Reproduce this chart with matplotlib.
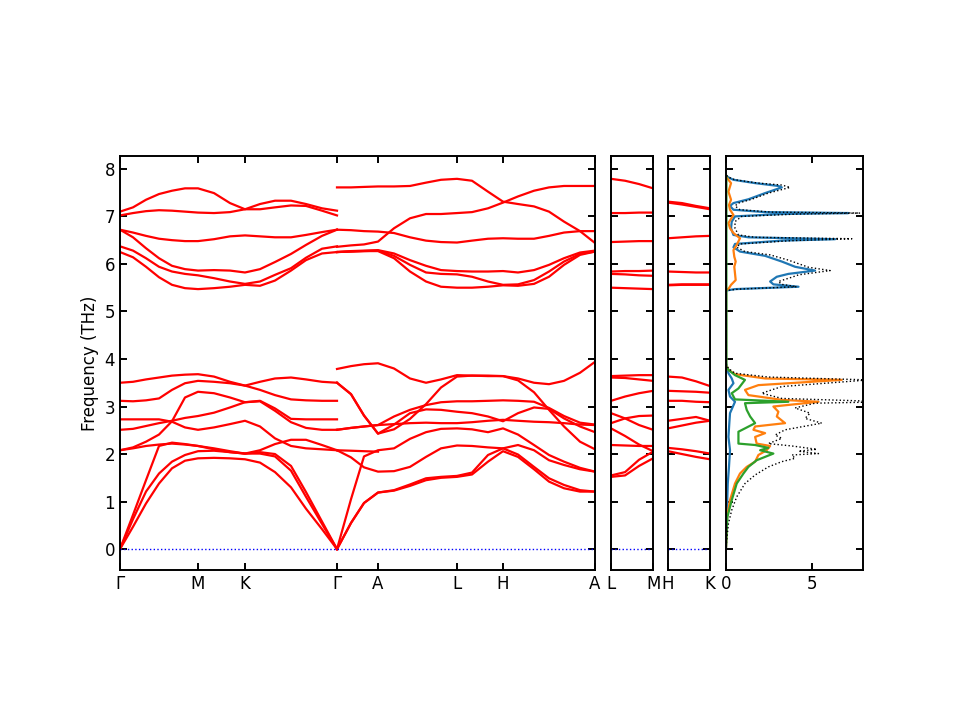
import numpy as np
import matplotlib
matplotlib.use("Agg")
import matplotlib.pyplot as plt

plt.rcParams.update({
    'font.size': 12,
    'axes.linewidth': 1.4,
    'xtick.direction': 'in',
    'ytick.direction': 'in',
    'xtick.major.width': 1.4,
    'ytick.major.width': 1.4,
    'xtick.major.size': 5,
    'ytick.major.size': 5,
})

# ---------------- band structure: path Gamma-M-K-Gamma ----------------
q1 = [0.00, 0.13, 0.26, 0.39, 0.52, 0.65, 0.78, 0.94, 1.10, 1.25,
      1.40, 1.55, 1.71, 1.86, 2.02, 2.17]

path1_bands = [
    [7.10, 7.19, 7.35, 7.47, 7.54, 7.59, 7.59, 7.49, 7.28, 7.15, 7.26, 7.33, 7.33, 7.26, 7.17, 7.12],
    [7.02, 7.07, 7.11, 7.13, 7.12, 7.10, 7.08, 7.07, 7.09, 7.15, 7.15, 7.19, 7.23, 7.22, 7.12, 7.02],
    [6.72, 6.66, 6.59, 6.53, 6.50, 6.48, 6.48, 6.52, 6.58, 6.60, 6.58, 6.56, 6.56, 6.61, 6.67, 6.72],
    [6.72, 6.56, 6.33, 6.12, 5.96, 5.89, 5.86, 5.87, 5.86, 5.82, 5.89, 6.04, 6.21, 6.40, 6.59, 6.72],
    [6.37, 6.28, 6.12, 5.94, 5.84, 5.79, 5.76, 5.70, 5.63, 5.58, 5.63, 5.77, 5.91, 6.13, 6.32, 6.37],
    [6.25, 6.14, 5.94, 5.72, 5.56, 5.49, 5.47, 5.49, 5.52, 5.56, 5.54, 5.65, 5.86, 6.08, 6.22, 6.25],
    [3.50, 3.52, 3.57, 3.61, 3.65, 3.67, 3.68, 3.63, 3.52, 3.44, 3.52, 3.59, 3.61, 3.57, 3.52, 3.50],
    [3.12, 3.11, 3.13, 3.17, 3.35, 3.49, 3.54, 3.52, 3.49, 3.44, 3.35, 3.24, 3.15, 3.13, 3.12, 3.12],
    [2.08, 2.14, 2.26, 2.41, 2.69, 3.19, 3.31, 3.28, 3.19, 3.09, 3.11, 2.91, 2.67, 2.55, 2.51, 2.51],
    [2.73, 2.73, 2.73, 2.73, 2.68, 2.56, 2.51, 2.56, 2.63, 2.70, 2.58, 2.33, 2.17, 2.12, 2.10, 2.08],
    [2.51, 2.53, 2.59, 2.65, 2.70, 2.76, 2.80, 2.87, 2.98, 3.09, 3.12, 2.96, 2.74, 2.73, 2.73, 2.73],
    [2.08, 2.12, 2.17, 2.20, 2.22, 2.20, 2.17, 2.12, 2.06, 2.01, 2.08, 2.21, 2.30, 2.30, 2.19, 2.08],
    [0.00, 0.72, 1.45, 2.17, 2.24, 2.21, 2.17, 2.10, 2.04, 2.01, 2.04, 2.00, 1.75, 1.20, 0.58, 0.00],
    [0.00, 0.63, 1.21, 1.59, 1.84, 1.98, 2.06, 2.07, 2.04, 2.01, 2.01, 1.95, 1.65, 1.10, 0.53, 0.00],
    [0.00, 0.47, 0.96, 1.38, 1.70, 1.86, 1.91, 1.92, 1.91, 1.89, 1.82, 1.62, 1.30, 0.85, 0.42, 0.00],
]

# ---------------- band structure: path Gamma-A-L-H-A ----------------
q2 = [2.17, 2.31, 2.44, 2.58, 2.74, 2.90, 3.06, 3.21, 3.37, 3.52,
      3.68, 3.83, 3.98, 4.14, 4.29, 4.44, 4.60, 4.75]

path2_bands = [
    [7.61, 7.61, 7.62, 7.63, 7.63, 7.64, 7.71, 7.77, 7.79, 7.75, 7.52, 7.31, 7.26, 7.21, 7.10, 6.89, 6.69, 6.44],
    [6.72, 6.71, 6.69, 6.68, 6.65, 6.56, 6.49, 6.46, 6.45, 6.49, 6.53, 6.54, 6.53, 6.53, 6.59, 6.66, 6.69, 6.69],
    [6.36, 6.39, 6.41, 6.47, 6.75, 6.96, 7.05, 7.05, 7.07, 7.09, 7.17, 7.29, 7.42, 7.54, 7.61, 7.64, 7.64, 7.64],
    [6.25, 6.27, 6.28, 6.29, 6.22, 6.08, 5.96, 5.87, 5.85, 5.84, 5.84, 5.85, 5.82, 5.87, 5.98, 6.12, 6.24, 6.28],
    [6.25, 6.26, 6.27, 6.28, 6.17, 5.98, 5.82, 5.79, 5.78, 5.73, 5.63, 5.56, 5.57, 5.66, 5.84, 6.05, 6.21, 6.26],
    [6.25, 6.26, 6.27, 6.27, 6.12, 5.84, 5.63, 5.52, 5.50, 5.50, 5.52, 5.55, 5.54, 5.58, 5.73, 5.98, 6.19, 6.26],
    [3.79, 3.85, 3.89, 3.91, 3.80, 3.59, 3.50, 3.57, 3.66, 3.65, 3.64, 3.64, 3.59, 3.50, 3.47, 3.54, 3.71, 3.94],
    [3.50, 3.26, 2.81, 2.43, 2.52, 2.74, 3.05, 3.40, 3.63, 3.65, 3.65, 3.64, 3.55, 3.30, 2.93, 2.58, 2.26, 2.10],
    [3.50, 3.26, 2.81, 2.43, 2.62, 2.86, 2.94, 2.93, 2.89, 2.86, 2.79, 2.69, 2.86, 2.98, 2.95, 2.75, 2.58, 2.46],
    [2.51, 2.55, 2.58, 2.61, 2.79, 2.93, 3.03, 3.09, 3.11, 3.11, 3.12, 3.13, 3.12, 3.10, 2.97, 2.80, 2.66, 2.62],
    [2.51, 2.55, 2.58, 2.61, 2.63, 2.65, 2.66, 2.65, 2.65, 2.67, 2.70, 2.72, 2.70, 2.68, 2.67, 2.65, 2.62, 2.61],
    [0.00, 1.05, 1.95, 2.08, 2.12, 2.32, 2.46, 2.53, 2.54, 2.52, 2.46, 2.54, 2.41, 2.19, 1.98, 1.84, 1.71, 1.63],
    [2.08, 1.93, 1.72, 1.63, 1.64, 1.73, 1.94, 2.12, 2.18, 2.17, 2.14, 2.12, 2.19, 2.08, 1.87, 1.77, 1.68, 1.63],
    [0.00, 0.55, 0.97, 1.19, 1.24, 1.36, 1.49, 1.52, 1.54, 1.61, 1.98, 2.12, 1.99, 1.73, 1.49, 1.35, 1.24, 1.21],
    [0.00, 0.55, 0.97, 1.19, 1.23, 1.33, 1.45, 1.50, 1.52, 1.57, 1.84, 2.06, 1.94, 1.68, 1.42, 1.28, 1.21, 1.21],
]
# flat optical branch only on Gamma-A
qGA = [2.17, 2.31, 2.44, 2.58]
band_GA = [2.08, 2.07, 2.06, 2.05]

# ---------------- L-M and H-K ----------------
q_short = [0.00, 0.14, 0.28, 0.42]

LM_bands = [
    [7.79, 7.75, 7.68, 7.59], [7.07, 7.07, 7.08, 7.08], [6.46, 6.47, 6.48, 6.48],
    [5.84, 5.85, 5.85, 5.86], [5.79, 5.78, 5.76, 5.75], [5.50, 5.49, 5.48, 5.47],
    [3.64, 3.65, 3.66, 3.66], [3.61, 3.60, 3.57, 3.54], [3.12, 3.21, 3.28, 3.33],
    [2.86, 2.75, 2.61, 2.51], [2.65, 2.75, 2.80, 2.81], [2.54, 2.38, 2.20, 2.06],
    [2.19, 2.18, 2.17, 2.17], [1.52, 1.55, 1.75, 1.91], [1.55, 1.62, 1.88, 2.05],
]

HK_bands = [
    [7.31, 7.28, 7.22, 7.17], [7.29, 7.25, 7.20, 7.15], [6.54, 6.56, 6.58, 6.59],
    [5.84, 5.83, 5.82, 5.82], [5.56, 5.57, 5.57, 5.57], [5.55, 5.56, 5.56, 5.56],
    [3.63, 3.61, 3.53, 3.43], [3.33, 3.32, 3.31, 3.29], [3.12, 3.12, 3.10, 3.09],
    [2.70, 2.74, 2.78, 2.70], [2.54, 2.60, 2.66, 2.70], [2.13, 2.10, 2.06, 2.01],
    [2.06, 2.00, 1.94, 1.89],
]

path_ticks = [0.00, 0.78, 1.25, 2.17, 2.58, 3.37, 3.83, 4.75]
path_labels = ['Γ', 'M', 'K', 'Γ', 'A', 'L', 'H', 'A']

# ---------------- DOS ----------------
blue_f = [0.05, 0.68, 1.38, 1.73, 2.08, 2.36, 2.65, 2.86, 3.10, 3.21, 3.35, 3.49, 3.59, 3.70, 3.91,
          5.44, 5.47, 5.52, 5.57, 5.63, 5.73, 5.79, 5.86, 5.94, 6.05, 6.17, 6.26, 6.35, 6.42, 6.49,
          6.52, 6.56, 6.61, 6.75, 6.89, 7.00, 7.05, 7.07, 7.09, 7.14, 7.22, 7.28, 7.36, 7.49, 7.61,
          7.64, 7.70, 7.77, 7.82, 7.85]
blue_d = [0, 0.04, 0.10, 0.17, 0.23, 0.14, 0.19, 0.23, 0.52, 0.23, 0.14, 0.43, 0.33, 0.14, 0,
          0, 0.52, 4.21, 2.75, 2.56, 2.95, 3.62, 5.17, 4.01, 3.24, 2.27, 0.81, 0.43, 0.52, 3.24,
          6.34, 1.30, 0.43, 0.29, 0.33, 0.52, 3.24, 7.11, 2.27, 0.43, 0.23, 0.43, 1.30, 2.27, 3.24,
          3.04, 1.69, 0.43, 0.14, 0]

orange_f = [0.05, 0.68, 1.03, 1.38, 1.59, 1.73, 1.84, 1.98, 2.08, 2.17, 2.22, 2.36, 2.44, 2.51, 2.58,
            2.65, 2.79, 2.89, 3.00, 3.10, 3.14, 3.24, 3.35, 3.45, 3.56, 3.59, 3.68, 3.77, 3.87,
            5.44, 5.49, 5.56, 5.66, 5.80, 5.94, 6.05, 6.15, 6.29, 6.40, 6.54, 6.65, 6.75, 6.86,
            7.03, 7.14, 7.24, 7.35, 7.52, 7.70, 7.77, 7.84]
orange_d = [0, 0.06, 0.23, 0.52, 0.81, 1.20, 1.69, 1.88, 2.36, 2.56, 1.78, 1.69, 2.27, 1.59, 1.69,
            3.43, 2.95, 3.04, 2.75, 5.37, 3.24, 1.30, 1.10, 1.88, 6.72, 2.27, 0.52, 0.14, 0,
            0, 0.17, 0.29, 0.56, 0.52, 0.48, 0.56, 0.48, 0.43, 0.62, 0.81, 0.43, 0.23, 0.14,
            0.43, 0.23, 0.17, 0.29, 0.14, 0.29, 0.14, 0]

green_f = [0.05, 0.68, 1.03, 1.38, 1.59, 1.73, 1.87, 2.01, 2.08, 2.13, 2.19, 2.22, 2.47, 2.54, 2.65,
           2.79, 2.93, 3.07, 3.10, 3.15, 3.28, 3.38, 3.56, 3.66, 3.77, 3.84, 5.44, 7.85]
green_d = [0, 0.08, 0.33, 0.62, 1.01, 1.30, 1.78, 2.75, 1.98, 2.46, 1.69, 0.72, 0.72, 1.10, 1.69,
           1.40, 1.20, 1.10, 3.62, 0.52, 0.33, 0.72, 1.10, 0.52, 0.14, 0.02, 0.02, 0.02]

total_f = [0.05, 0.54, 0.82, 1.10, 1.38, 1.56, 1.73, 1.84, 1.91, 1.98, 2.01, 2.06, 2.10, 2.17, 2.22,
           2.33, 2.40, 2.51, 2.65, 2.75, 2.86, 2.97, 3.07, 3.10, 3.17, 3.28, 3.42, 3.56, 3.62, 3.70,
           3.80, 3.90, 5.44, 5.47, 5.52, 5.57, 5.63, 5.72, 5.77, 5.86, 5.93, 6.08, 6.19, 6.26, 6.35,
           6.42, 6.49, 6.53, 6.56, 6.61, 6.75, 6.89, 7.00, 7.05, 7.07, 7.09, 7.14, 7.22, 7.28, 7.36,
           7.49, 7.61, 7.66, 7.70, 7.77, 7.82, 7.87]
total_d = [0, 0.14, 0.33, 0.62, 1.10, 1.69, 2.46, 3.24, 4.01, 3.82, 5.37, 4.21, 5.27, 3.82, 2.46,
           3.24, 2.85, 3.43, 5.56, 4.59, 4.88, 4.01, 5.17, 9.50, 3.24, 2.07, 3.24, 8.30, 2.46, 0.52,
           0.14, 0, 0, 0.72, 4.10, 3.24, 3.04, 3.82, 4.21, 6.05, 4.79, 3.62, 2.56, 1.10, 0.62,
           0.81, 3.82, 7.31, 1.69, 0.72, 0.52, 0.52, 0.91, 4.21, 7.79, 2.66, 0.81, 0.52, 0.72, 1.49,
           2.46, 3.72, 3.24, 1.88, 0.52, 0.17, 0]

# ---------------- figure ----------------
fig = plt.figure(figsize=(9.6, 7.2), dpi=100)
bottom, height = 0.2083, 0.575
ax1 = fig.add_axes([0.125, bottom, 0.4948, height])
ax2 = fig.add_axes([0.6365, bottom, 0.0438, height])
ax3 = fig.add_axes([0.6958, bottom, 0.0438, height])
ax4 = fig.add_axes([0.7563, bottom, 0.1427, height])

ylim = (-0.44, 8.27)

for b in path1_bands:
    ax1.plot(q1, b, color='r', lw=1.6)
for b in path2_bands:
    ax1.plot(q2, b, color='r', lw=1.6)
ax1.plot(qGA, band_GA, color='r', lw=1.6)
for b in LM_bands:
    ax2.plot(q_short, b, color='r', lw=1.6)
for b in HK_bands:
    ax3.plot(q_short, b, color='r', lw=1.6)

for ax in (ax1, ax2, ax3):
    ax.axhline(0, color='b', ls=':', lw=1.0)
    ax.set_ylim(ylim)
    ax.set_yticks(range(0, 9))
    ax.tick_params(axis='both', which='both', top=True, right=True, bottom=True, left=True)

ax1.set_xlim(path_ticks[0], path_ticks[-1])
ax1.set_xticks(path_ticks)
ax1.set_xticklabels(path_labels)
ax1.set_ylabel('Frequency (THz)')

ax2.set_xlim(0, 0.42)
ax2.set_xticks([0, 0.42])
ax2.set_xticklabels(['L', 'M'])
ax2.set_yticklabels([])

ax3.set_xlim(0, 0.42)
ax3.set_xticks([0, 0.42])
ax3.set_xticklabels(['H', 'K'])
ax3.set_yticklabels([])

# DOS panel
ax4.plot(blue_d, blue_f, color='C0', lw=1.6)
ax4.plot(orange_d, orange_f, color='C1', lw=1.6)
ax4.plot(green_d, green_f, color='C2', lw=1.6)
ax4.plot(total_d, total_f, color='k', ls=':', lw=1.0)
ax4.set_xlim(0, 7.96)
ax4.set_ylim(ylim)
ax4.set_xticks([0, 5])
ax4.set_yticks(range(0, 9))
ax4.set_yticklabels([])
ax4.tick_params(axis='both', which='both', top=True, right=True, bottom=True, left=True)

fig.savefig('out.png', dpi=100)
